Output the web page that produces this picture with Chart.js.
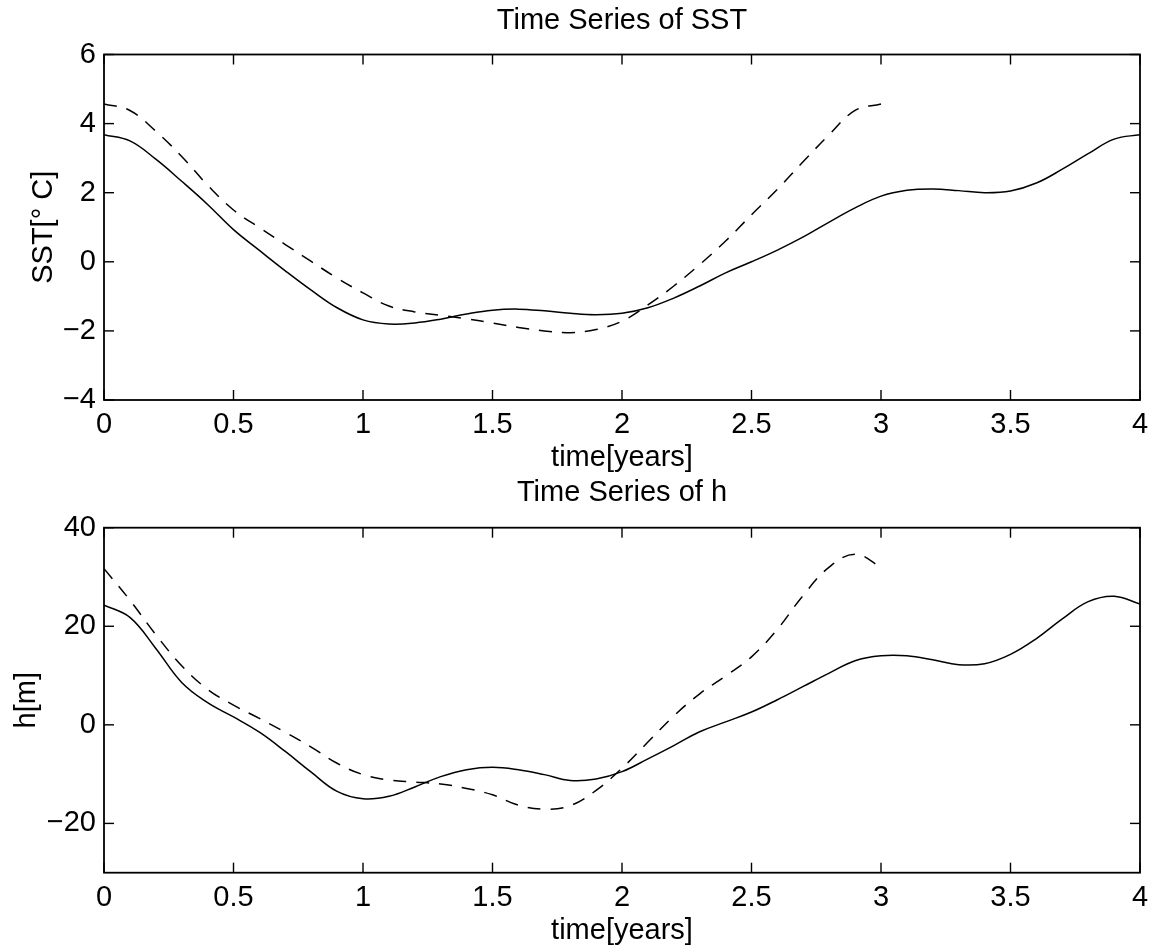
<!DOCTYPE html>
<html>
<head>
<meta charset="utf-8">
<title>Time Series of SST and h</title>
<script src="https://cdn.jsdelivr.net/npm/chart.js@4.4.1/dist/chart.umd.min.js"></script>
<style>
  html, body { margin: 0; padding: 0; background: #fff; }
  #wrap { position: relative; width: 1159px; height: 951px; overflow: hidden; }
  #sstChart { position: absolute; left: 0; top: 0; }
  #hChart { position: absolute; left: 0; top: 476px; }
</style>
</head>
<body>
<div id="wrap">
  <canvas id="sstChart" width="1159" height="480"></canvas>
  <canvas id="hChart" width="1159" height="475"></canvas>
</div>
<script>
// time axis, years (solid runs 0..4, dashed only 0..3)
const timeYears = [0, 0.1, 0.2, 0.3, 0.4, 0.5, 0.6, 0.7, 0.8, 0.9,
  1.0, 1.1, 1.2, 1.3, 1.4, 1.5, 1.6, 1.7, 1.8, 1.9,
  2.0, 2.1, 2.2, 2.3, 2.4, 2.5, 2.6, 2.7, 2.8, 2.9,
  3.0, 3.1, 3.2, 3.3, 3.4, 3.5, 3.6, 3.7, 3.8, 3.9, 4.0];

// SST [deg C]
const sstSolid = [3.68, 3.50, 2.97, 2.33, 1.66, 0.93, 0.33, -0.26, -0.82, -1.33,
  -1.68, -1.80, -1.77, -1.66, -1.51, -1.40, -1.37, -1.42, -1.49, -1.53,
  -1.49, -1.33, -1.05, -0.70, -0.32, 0.00, 0.34, 0.72, 1.15, 1.56,
  1.90, 2.07, 2.11, 2.06, 2.00, 2.05, 2.28, 2.68, 3.13, 3.55, 3.68];
const sstDashed = [4.57, 4.38, 3.78, 3.05, 2.22, 1.50, 0.99, 0.50, 0.01, -0.47,
  -0.90, -1.28, -1.45, -1.55, -1.65, -1.77, -1.90, -2.00, -2.05, -1.96,
  -1.72, -1.25, -0.70, -0.08, 0.60, 1.36, 2.10, 2.90, 3.68, 4.38, 4.57];

// h [m]
const hSolid = [24.3, 21.8, 15.5, 8.6, 4.5, 1.6, -1.5, -5.4, -9.6, -13.5,
  -15.0, -14.5, -12.6, -10.5, -9.1, -8.6, -9.1, -10.1, -11.3, -11.0,
  -9.5, -6.9, -4.2, -1.4, 0.6, 2.6, 5.1, 7.8, 10.5, 13.0,
  14.0, 14.0, 13.2, 12.2, 12.4, 14.3, 17.5, 21.5, 25.0, 26.1, 24.5];
const hDashed = [31.7, 25.3, 18.3, 12.0, 7.2, 4.0, 1.3, -1.5, -4.5, -7.8,
  -10.1, -11.2, -11.6, -12.0, -12.9, -14.2, -16.3, -17.1, -16.4, -13.3,
  -8.8, -3.5, 1.8, 6.3, 9.9, 13.8, 19.4, 26.3, 32.0, 34.6, 32.0];

// tick values
const xTicks = [0, 0.5, 1, 1.5, 2, 2.5, 3, 3.5, 4];
const sstTicks = [-4, -2, 0, 2, 4, 6];
const hTicks = [-20, 0, 20, 40];

const FONT = '"Liberation Sans", Arial, Helvetica, sans-serif';
Chart.defaults.font.family = FONT;
Chart.defaults.font.size = 29;
Chart.defaults.color = '#000';

// MATLAB style box with inward ticks on all four sides
const matlabBox = {
  id: 'matlabBox',
  afterDraw(chart, args, opts) {
    const { ctx, chartArea: a } = chart;
    const xs = chart.scales.x;
    const ys = chart.scales.y;
    const len = 10;
    const w = 1.4;
    ctx.save();
    ctx.fillStyle = '#000';
    xTicks.forEach((v) => {
      const px = xs.getPixelForValue(v);
      ctx.fillRect(px - w / 2, a.bottom - len, w, len);
      ctx.fillRect(px - w / 2, a.top, w, len);
    });
    (opts.yTicks || []).forEach((v) => {
      const py = ys.getPixelForValue(v);
      ctx.fillRect(a.left, py - w / 2, len, w);
      ctx.fillRect(a.right - len, py - w / 2, len, w);
    });
    ctx.setLineDash([]);
    ctx.strokeStyle = '#000';
    ctx.lineWidth = 1.8;
    ctx.strokeRect(a.left, a.top, a.right - a.left, a.bottom - a.top);
    ctx.restore();
  }
};

const minus = (v) => String(v).replace('-', '\u2212');

function points(ys) {
  return ys.map((y, i) => ({ x: timeYears[i], y }));
}

function buildChart(el, cfg) {
  return new Chart(el, {
    type: 'line',
    data: {
      datasets: [
        {
          data: points(cfg.solid),
          borderColor: '#000',
          borderWidth: 1.5,
          pointRadius: 0,
          tension: 0.4,
        },
        {
          data: points(cfg.dashed),
          borderColor: '#000',
          borderWidth: 1.5,
          borderDash: [13, 10],
          pointRadius: 0,
          tension: 0.4,
        }
      ]
    },
    options: {
      responsive: false,
      animation: false,
      devicePixelRatio: 1,
      layout: { padding: { left: 0, right: 19, top: 0, bottom: 0 } },
      plugins: {
        legend: { display: false },
        tooltip: { enabled: false },
        matlabBox: { yTicks: cfg.yTicks },
        title: {
          display: true,
          fullSize: false,
          text: cfg.title,
          color: '#000',
          font: { size: 29, weight: 'normal', family: FONT },
          padding: { top: cfg.titleTop, bottom: cfg.titleBottom },
        }
      },
      scales: {
        x: {
          type: 'linear',
          min: 0,
          max: 4,
          afterBuildTicks: (s) => { s.ticks = xTicks.map((v) => ({ value: v })); },
          afterFit: (s) => { s.height = cfg.xHeight; },
          grid: { display: false, drawTicks: false },
          border: { display: false },
          ticks: { padding: 8, maxRotation: 0, autoSkip: false, callback: (v) => String(v) },
          title: {
            display: true,
            text: 'time[years]',
            font: { size: 29, family: FONT },
            padding: { top: 0, bottom: cfg.xTitlePad },
          }
        },
        y: {
          type: 'linear',
          min: cfg.yMin,
          max: cfg.yMax,
          afterBuildTicks: (s) => { s.ticks = cfg.yTicks.map((v) => ({ value: v })); },
          afterFit: (s) => { s.width = 104; },
          grid: { display: false, drawTicks: false },
          border: { display: false },
          ticks: { padding: 8, callback: minus, autoSkip: false },
          title: {
            display: true,
            text: cfg.yLabel,
            font: { size: 29, family: FONT },
            padding: { top: cfg.yTitlePad, bottom: 0 },
          }
        }
      }
    },
    plugins: [matlabBox]
  });
}

function initCharts() {
  try {
    buildChart(document.getElementById('sstChart'), {
      title: 'Time Series of SST',
      titleTop: 3.6,
      titleBottom: 16.1,
      xHeight: 80,
      xTitlePad: 4.6,
      yMin: -4,
      yMax: 6,
      yTicks: sstTicks,
      yLabel: 'SST[\u00B0 C]',
      yTitlePad: 26.6,
      solid: sstSolid,
      dashed: sstDashed,
    });
    buildChart(document.getElementById('hChart'), {
      title: 'Time Series of h',
      titleTop: 0,
      titleBottom: 16.9,
      xHeight: 78.3,
      xTitlePad: 2.6,
      yMin: -30,
      yMax: 40,
      yTicks: hTicks,
      yLabel: 'h[m]',
      yTitlePad: 9.6,
      solid: hSolid,
      dashed: hDashed,
    });
  } catch (e) {
    console.warn('Chart init skipped:', e?.message || e);
  }
}

document.addEventListener('DOMContentLoaded', initCharts);
</script>
</body>
</html>
